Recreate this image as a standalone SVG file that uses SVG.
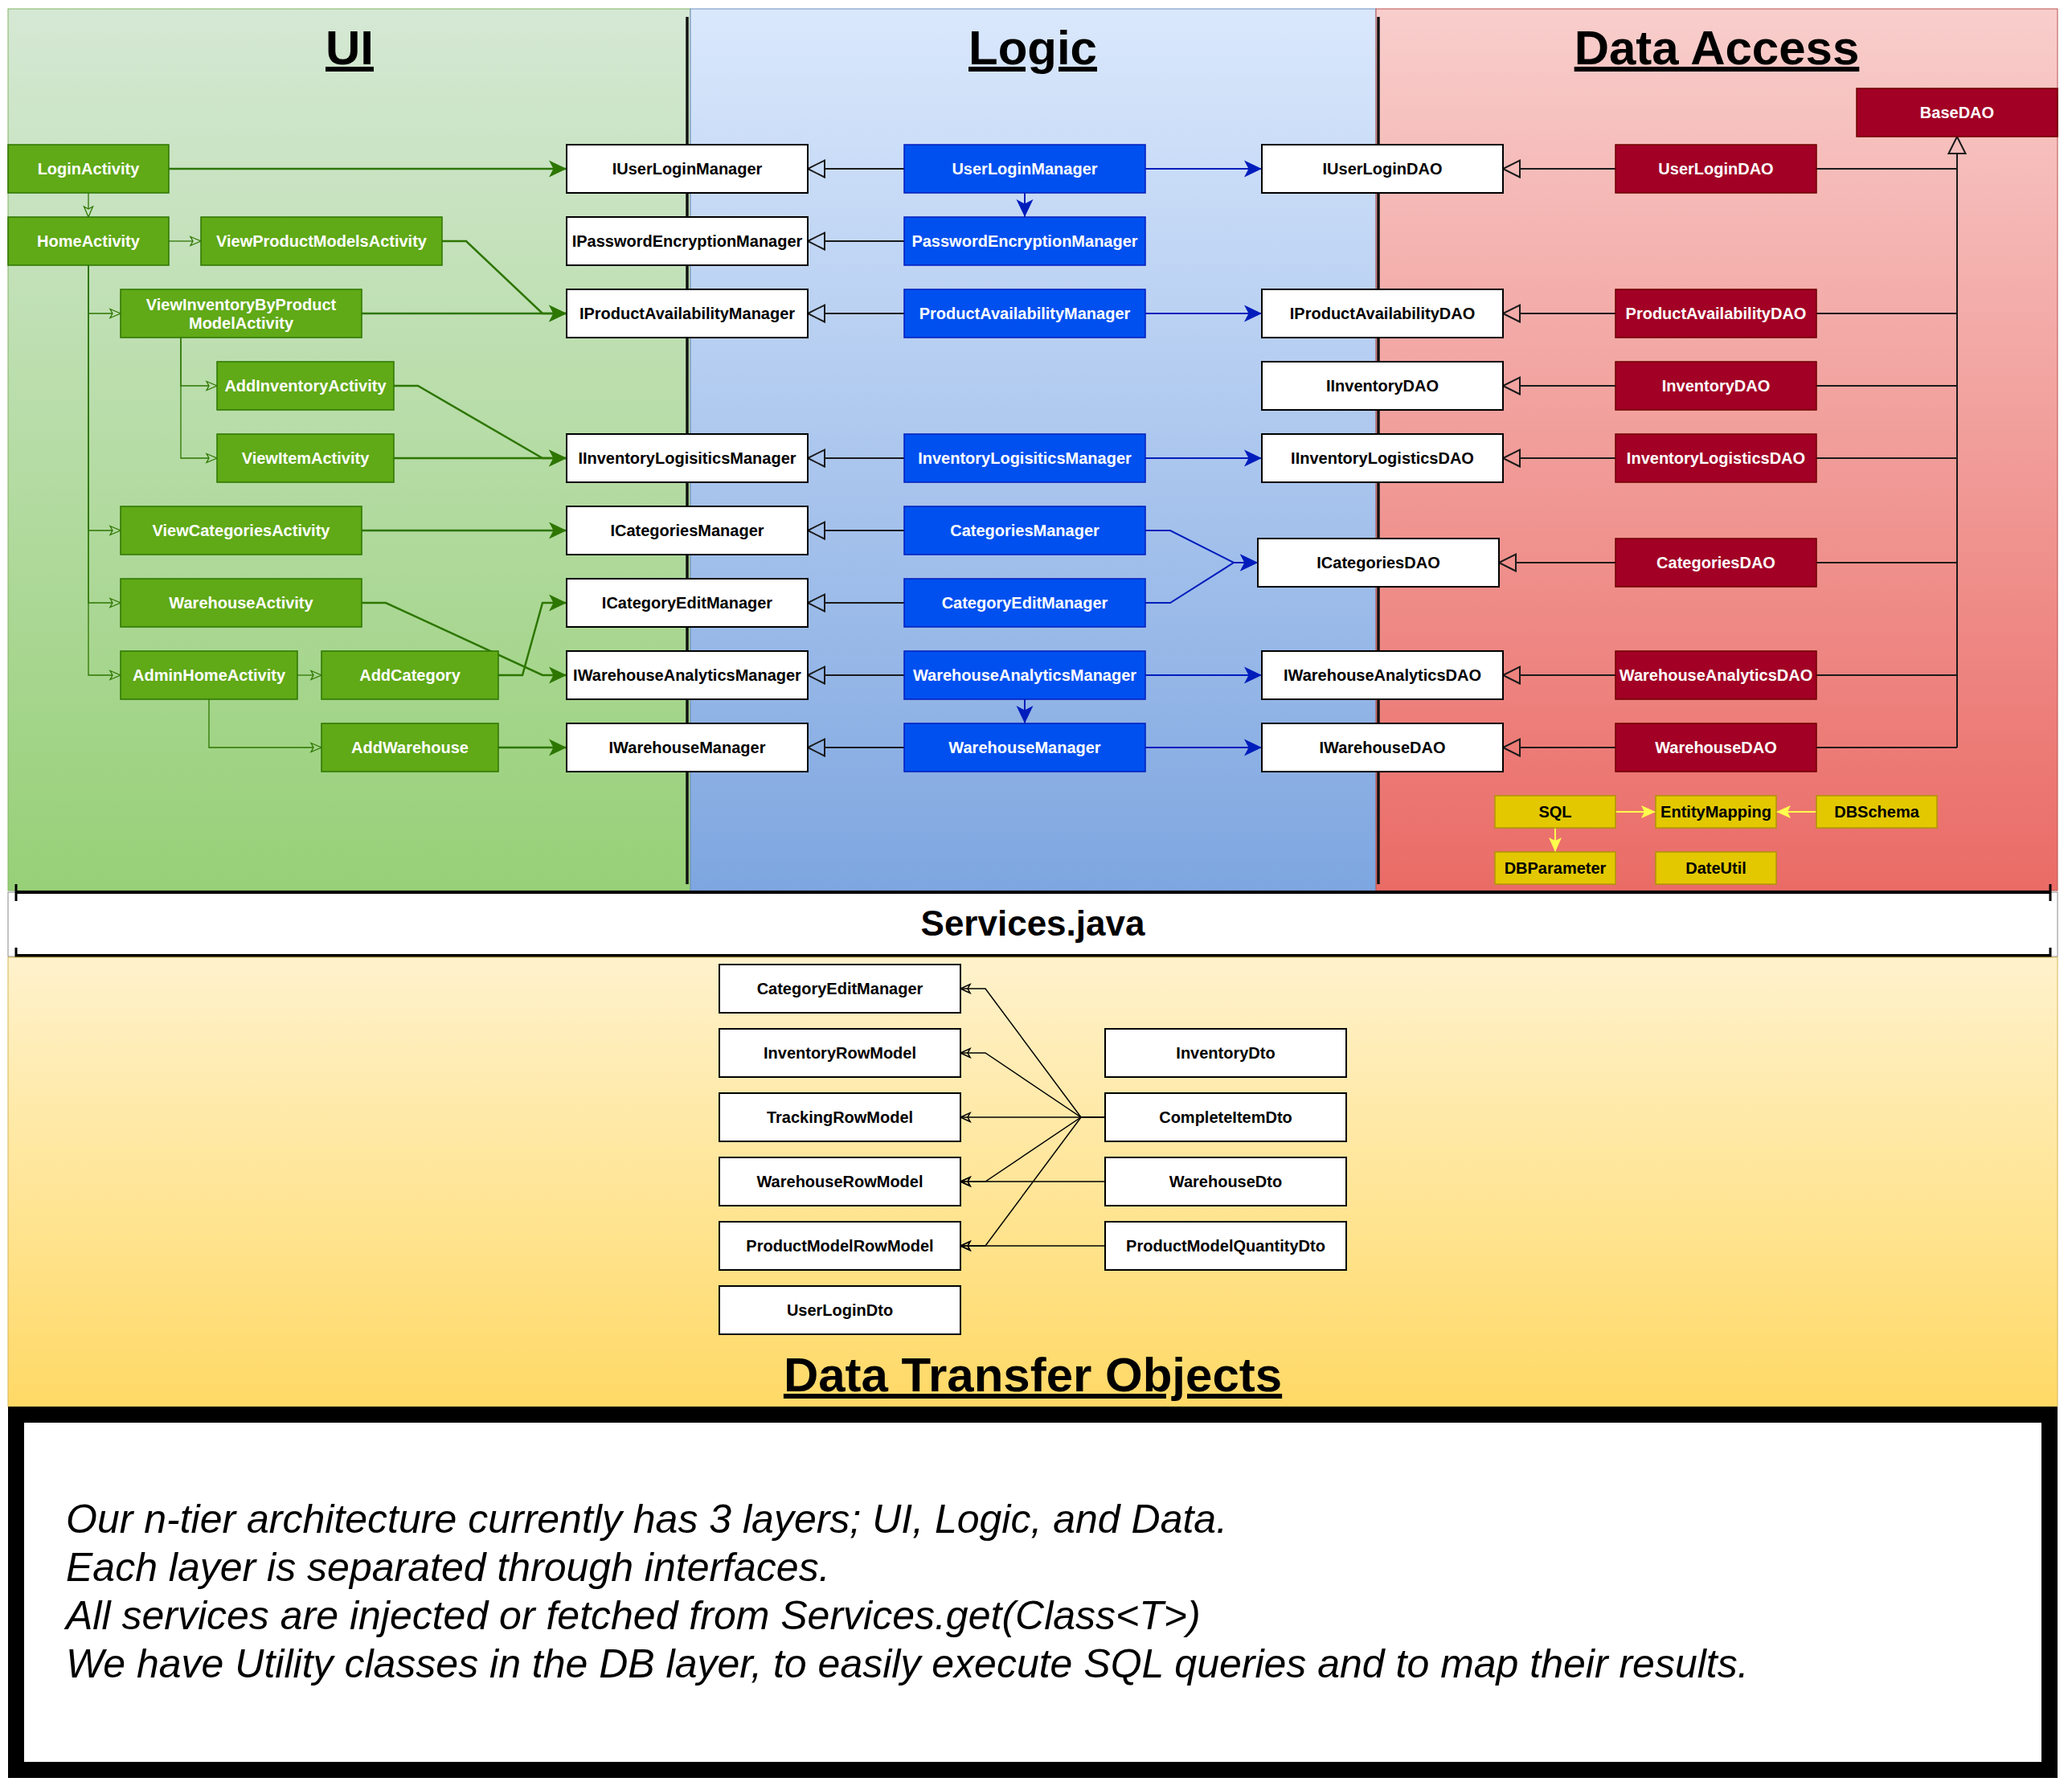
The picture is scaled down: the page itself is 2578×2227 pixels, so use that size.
<svg xmlns="http://www.w3.org/2000/svg" width="2578" height="2227" viewBox="0 0 2578 2227">
<style>
text{font-family:'Liberation Sans',Arial,Helvetica,sans-serif}
.nt{font-size:20px;font-weight:bold;text-anchor:middle}
.tw{fill:#fff}
.tb{fill:#000}
.g{fill:#60a917;stroke:#2D7600;stroke-width:1.5}
.b{fill:#0050ef;stroke:#001DBC;stroke-width:1.5}
.r{fill:#a20025;stroke:#6F0000;stroke-width:1.5}
.y{fill:#e3c800;stroke:#B09500;stroke-width:1.5}
.w{fill:#fff;stroke:#000;stroke-width:2}
.title{font-size:60px;font-weight:bold;text-anchor:middle;text-decoration:underline;fill:#000}
.gt{fill:none;stroke:#2D7600;stroke-width:2.5;marker-end:url(#gA)}
.gn{fill:none;stroke:#2D7600;stroke-width:1.3;marker-end:url(#gO)}
.bl{fill:none;stroke:#001DBC;stroke-width:2;marker-end:url(#bA)}
.bk{fill:none;stroke:#1a1a1a;stroke-width:2;marker-end:url(#hol)}
.bkn{fill:none;stroke:#1a1a1a;stroke-width:2}
.yl{fill:none;stroke:#ffff4d;stroke-width:2;marker-end:url(#yA)}
.dt{fill:none;stroke:#000;stroke-width:1.5;marker-end:url(#dA)}
.note{font-size:50px;font-style:italic;fill:#000}
</style>
<defs>
<linearGradient id="gUI" x1="0" y1="0" x2="0" y2="1"><stop offset="0" stop-color="#d5e8d4"/><stop offset="1" stop-color="#97d077"/></linearGradient>
<linearGradient id="gL" x1="0" y1="0" x2="0" y2="1"><stop offset="0" stop-color="#dae8fc"/><stop offset="1" stop-color="#7ea6e0"/></linearGradient>
<linearGradient id="gD" x1="0" y1="0" x2="0" y2="1"><stop offset="0" stop-color="#f8cecc"/><stop offset="1" stop-color="#ea6b66"/></linearGradient>
<linearGradient id="gT" x1="0" y1="0" x2="0" y2="1"><stop offset="0" stop-color="#fff2cc"/><stop offset="1" stop-color="#ffd966"/></linearGradient>
<marker id="gA" markerUnits="userSpaceOnUse" markerWidth="22" markerHeight="21" refX="22" refY="10.5" orient="auto" overflow="visible"><path d="M0,0 L22,10.5 L0,21 L5.5,10.5 Z" fill="#2D7600"/></marker>
<marker id="bA" markerUnits="userSpaceOnUse" markerWidth="22" markerHeight="21" refX="22" refY="10.5" orient="auto" overflow="visible"><path d="M0,0 L22,10.5 L0,21 L5.5,10.5 Z" fill="#001DBC"/></marker>
<marker id="yA" markerUnits="userSpaceOnUse" markerWidth="18" markerHeight="16" refX="18" refY="8" orient="auto" overflow="visible"><path d="M0,0 L18,8 L0,16 L4,8 Z" fill="#ffff4d"/></marker>
<marker id="gO" markerUnits="userSpaceOnUse" markerWidth="16" markerHeight="14" refX="4" refY="6.5" orient="auto" overflow="visible"><path d="M1,1 L14,6.5 L1,12 L4,6.5 Z" fill="none" stroke="#2D7600" stroke-width="1.3"/></marker>
<marker id="hol" markerUnits="userSpaceOnUse" markerWidth="22" markerHeight="22" refX="0" refY="10.5" orient="auto" overflow="visible"><path d="M0,0 L21,10.5 L0,21 Z" fill="none" stroke="#1a1a1a" stroke-width="2"/></marker>
<marker id="dA" markerUnits="userSpaceOnUse" markerWidth="13" markerHeight="12" refX="12" refY="5.5" orient="auto" overflow="visible"><path d="M0,0 L12,5.5 L0,11 L3,5.5 Z" fill="none" stroke="#000" stroke-width="1.5"/></marker>
</defs>
<rect width="2578" height="2227" fill="#fff"/>
<g id="panels">
<rect x="10" y="11" width="849" height="1097" fill="url(#gUI)" stroke="#82b366"/>
<rect x="859" y="11" width="853" height="1097" fill="url(#gL)" stroke="#6c8ebf"/>
<rect x="1712" y="11" width="848" height="1097" fill="url(#gD)" stroke="#b85450"/>
<line x1="855" y1="21" x2="855" y2="1100" stroke="#111" stroke-width="3.5"/>
<line x1="1715" y1="21" x2="1715" y2="1100" stroke="#111" stroke-width="3.5"/>
<text class="title" x="435" y="80">UI</text>
<text class="title" x="1285" y="80">Logic</text>
<text class="title" x="2136" y="80">Data Access</text>
</g>
<g id="services">
<rect x="10" y="1110" width="2550" height="80" fill="#fff" stroke="#888" stroke-width="1"/>
<path d="M20,1110 H2551 M20,1189 H2551" stroke="#000" stroke-width="4" fill="none"/>
<path d="M20,1100 V1121 M2551,1100 V1121 M20,1179 V1200 M2551,1179 V1200" stroke="#000" stroke-width="3" fill="none"/>
<text x="1285" y="1164" font-size="44" font-weight="bold" text-anchor="middle">Services.java</text>
</g>
<g id="dto-panel">
<rect x="10" y="1191" width="2550" height="559" fill="url(#gT)" stroke="#d6b656"/>
<text class="title" x="1285" y="1731">Data Transfer Objects</text>
</g>
<g id="notes">
<rect x="20" y="1760" width="2530" height="442" fill="#fff" stroke="#000" stroke-width="20"/>
<text class="note" x="82" y="1907">Our n-tier architecture currently has 3 layers; UI, Logic, and Data.</text>
<text class="note" x="82" y="1967">Each layer is separated through interfaces.</text>
<text class="note" x="82" y="2027">All services are injected or fetched from Services.get(Class&lt;T&gt;)</text>
<text class="note" x="82" y="2087">We have Utility classes in the DB layer, to easily execute SQL queries and to map their results.</text>
</g>
<g id="connectors">
<path class="gt" d="M210,210 H705"/>
<path class="gt" d="M550,300 H580 L675,390 H705"/>
<path class="gt" d="M450,390 H705"/>
<path class="gt" d="M490,480 H520 L675,570 H705"/>
<path class="gt" d="M490,570 H705"/>
<path class="gt" d="M450,660 H705"/>
<path class="gt" d="M450,750 H480 L675,840 H705"/>
<path class="gt" d="M620,840 H650 L675,750 H705"/>
<path class="gt" d="M620,930 H705"/>
<path class="gn" d="M110,240 V260"/>
<path class="gn" d="M210,300 H240"/>
<path class="gn" d="M110,330 V390 H140"/>
<path class="gn" d="M110,330 V660 H140"/>
<path class="gn" d="M110,330 V750 H140"/>
<path class="gn" d="M110,330 V840 H140"/>
<path class="gn" d="M225,420 V480 H260"/>
<path class="gn" d="M225,420 V570 H260"/>
<path class="gn" d="M370,840 H390"/>
<path class="gn" d="M260,870 V930 H390"/>
<path class="bk" d="M1125,210 H1026"/>
<path class="bk" d="M1125,300 H1026"/>
<path class="bk" d="M1125,390 H1026"/>
<path class="bk" d="M1125,570 H1026"/>
<path class="bk" d="M1125,660 H1026"/>
<path class="bk" d="M1125,750 H1026"/>
<path class="bk" d="M1125,840 H1026"/>
<path class="bk" d="M1125,930 H1026"/>
<path class="bl" d="M1425,210 H1570"/>
<path class="bl" d="M1275,240 V270"/>
<path class="bl" d="M1425,390 H1570"/>
<path class="bl" d="M1425,570 H1570"/>
<path class="bl" d="M1425,660 H1456 L1535,700 H1565"/>
<path class="bl" d="M1425,750 H1456 L1535,700 H1565"/>
<path class="bl" d="M1425,840 H1570"/>
<path class="bl" d="M1275,870 V900"/>
<path class="bl" d="M1425,930 H1570"/>
<path class="bk" d="M2010,210 H1891"/>
<path class="bk" d="M2010,390 H1891"/>
<path class="bk" d="M2010,480 H1891"/>
<path class="bk" d="M2010,570 H1891"/>
<path class="bk" d="M2010,700 H1886"/>
<path class="bk" d="M2010,840 H1891"/>
<path class="bk" d="M2010,930 H1891"/>
<path class="bkn" d="M2260,210 H2435 M2260,390 H2435 M2260,480 H2435 M2260,570 H2435 M2260,700 H2435 M2260,840 H2435 M2260,930 H2435"/>
<path class="bk" d="M2435,930 V191"/>
<path class="yl" d="M2010,1010 H2060"/>
<path class="yl" d="M2260,1010 H2210"/>
<path class="yl" d="M1935,1030 V1060"/>
<path class="dt" d="M1375,1390 H1345 L1226,1230 H1195"/>
<path class="dt" d="M1375,1390 H1345 L1226,1310 H1195"/>
<path class="dt" d="M1375,1390 H1195"/>
<path class="dt" d="M1375,1390 H1345 L1226,1470 H1195"/>
<path class="dt" d="M1375,1390 H1345 L1226,1550 H1195"/>
<path class="dt" d="M1375,1470 H1195"/>
<path class="dt" d="M1375,1550 H1195"/>
</g>
<g id="LoginActivity"><rect class="g" x="10" y="180" width="200" height="60"/><text class="nt tw" x="110" y="217">LoginActivity</text></g>
<g id="HomeActivity"><rect class="g" x="10" y="270" width="200" height="60"/><text class="nt tw" x="110" y="307">HomeActivity</text></g>
<g id="ViewProductModelsActivity"><rect class="g" x="250" y="270" width="300" height="60"/><text class="nt tw" x="400" y="307">ViewProductModelsActivity</text></g>
<g id="ViewInventoryByProductModelActivity"><rect class="g" x="150" y="360" width="300" height="60"/><text class="nt tw" x="300" y="385.5">ViewInventoryByProduct</text><text class="nt tw" x="300" y="408.5">ModelActivity</text></g>
<g id="AddInventoryActivity"><rect class="g" x="270" y="450" width="220" height="60"/><text class="nt tw" x="380" y="487">AddInventoryActivity</text></g>
<g id="ViewItemActivity"><rect class="g" x="270" y="540" width="220" height="60"/><text class="nt tw" x="380" y="577">ViewItemActivity</text></g>
<g id="ViewCategoriesActivity"><rect class="g" x="150" y="630" width="300" height="60"/><text class="nt tw" x="300" y="667">ViewCategoriesActivity</text></g>
<g id="WarehouseActivity"><rect class="g" x="150" y="720" width="300" height="60"/><text class="nt tw" x="300" y="757">WarehouseActivity</text></g>
<g id="AdminHomeActivity"><rect class="g" x="150" y="810" width="220" height="60"/><text class="nt tw" x="260" y="847">AdminHomeActivity</text></g>
<g id="AddCategory"><rect class="g" x="400" y="810" width="220" height="60"/><text class="nt tw" x="510" y="847">AddCategory</text></g>
<g id="AddWarehouse"><rect class="g" x="400" y="900" width="220" height="60"/><text class="nt tw" x="510" y="937">AddWarehouse</text></g>
<g id="IUserLoginManager"><rect class="w" x="705" y="180" width="300" height="60"/><text class="nt tb" x="855" y="217">IUserLoginManager</text></g>
<g id="IPasswordEncryptionManager"><rect class="w" x="705" y="270" width="300" height="60"/><text class="nt tb" x="855" y="307">IPasswordEncryptionManager</text></g>
<g id="IProductAvailabilityManager"><rect class="w" x="705" y="360" width="300" height="60"/><text class="nt tb" x="855" y="397">IProductAvailabilityManager</text></g>
<g id="IInventoryLogisiticsManager"><rect class="w" x="705" y="540" width="300" height="60"/><text class="nt tb" x="855" y="577">IInventoryLogisiticsManager</text></g>
<g id="ICategoriesManager"><rect class="w" x="705" y="630" width="300" height="60"/><text class="nt tb" x="855" y="667">ICategoriesManager</text></g>
<g id="ICategoryEditManager"><rect class="w" x="705" y="720" width="300" height="60"/><text class="nt tb" x="855" y="757">ICategoryEditManager</text></g>
<g id="IWarehouseAnalyticsManager"><rect class="w" x="705" y="810" width="300" height="60"/><text class="nt tb" x="855" y="847">IWarehouseAnalyticsManager</text></g>
<g id="IWarehouseManager"><rect class="w" x="705" y="900" width="300" height="60"/><text class="nt tb" x="855" y="937">IWarehouseManager</text></g>
<g id="UserLoginManager"><rect class="b" x="1125" y="180" width="300" height="60"/><text class="nt tw" x="1275" y="217">UserLoginManager</text></g>
<g id="PasswordEncryptionManager"><rect class="b" x="1125" y="270" width="300" height="60"/><text class="nt tw" x="1275" y="307">PasswordEncryptionManager</text></g>
<g id="ProductAvailabilityManager"><rect class="b" x="1125" y="360" width="300" height="60"/><text class="nt tw" x="1275" y="397">ProductAvailabilityManager</text></g>
<g id="InventoryLogisiticsManager"><rect class="b" x="1125" y="540" width="300" height="60"/><text class="nt tw" x="1275" y="577">InventoryLogisiticsManager</text></g>
<g id="CategoriesManager"><rect class="b" x="1125" y="630" width="300" height="60"/><text class="nt tw" x="1275" y="667">CategoriesManager</text></g>
<g id="CategoryEditManager"><rect class="b" x="1125" y="720" width="300" height="60"/><text class="nt tw" x="1275" y="757">CategoryEditManager</text></g>
<g id="WarehouseAnalyticsManager"><rect class="b" x="1125" y="810" width="300" height="60"/><text class="nt tw" x="1275" y="847">WarehouseAnalyticsManager</text></g>
<g id="WarehouseManager"><rect class="b" x="1125" y="900" width="300" height="60"/><text class="nt tw" x="1275" y="937">WarehouseManager</text></g>
<g id="IUserLoginDAO"><rect class="w" x="1570" y="180" width="300" height="60"/><text class="nt tb" x="1720" y="217">IUserLoginDAO</text></g>
<g id="IProductAvailabilityDAO"><rect class="w" x="1570" y="360" width="300" height="60"/><text class="nt tb" x="1720" y="397">IProductAvailabilityDAO</text></g>
<g id="IInventoryDAO"><rect class="w" x="1570" y="450" width="300" height="60"/><text class="nt tb" x="1720" y="487">IInventoryDAO</text></g>
<g id="IInventoryLogisticsDAO"><rect class="w" x="1570" y="540" width="300" height="60"/><text class="nt tb" x="1720" y="577">IInventoryLogisticsDAO</text></g>
<g id="ICategoriesDAO"><rect class="w" x="1565" y="670" width="300" height="60"/><text class="nt tb" x="1715" y="707">ICategoriesDAO</text></g>
<g id="IWarehouseAnalyticsDAO"><rect class="w" x="1570" y="810" width="300" height="60"/><text class="nt tb" x="1720" y="847">IWarehouseAnalyticsDAO</text></g>
<g id="IWarehouseDAO"><rect class="w" x="1570" y="900" width="300" height="60"/><text class="nt tb" x="1720" y="937">IWarehouseDAO</text></g>
<g id="BaseDAO"><rect class="r" x="2310" y="110" width="250" height="60"/><text class="nt tw" x="2435" y="147">BaseDAO</text></g>
<g id="UserLoginDAO"><rect class="r" x="2010" y="180" width="250" height="60"/><text class="nt tw" x="2135" y="217">UserLoginDAO</text></g>
<g id="ProductAvailabilityDAO"><rect class="r" x="2010" y="360" width="250" height="60"/><text class="nt tw" x="2135" y="397">ProductAvailabilityDAO</text></g>
<g id="InventoryDAO"><rect class="r" x="2010" y="450" width="250" height="60"/><text class="nt tw" x="2135" y="487">InventoryDAO</text></g>
<g id="InventoryLogisticsDAO"><rect class="r" x="2010" y="540" width="250" height="60"/><text class="nt tw" x="2135" y="577">InventoryLogisticsDAO</text></g>
<g id="CategoriesDAO"><rect class="r" x="2010" y="670" width="250" height="60"/><text class="nt tw" x="2135" y="707">CategoriesDAO</text></g>
<g id="WarehouseAnalyticsDAO"><rect class="r" x="2010" y="810" width="250" height="60"/><text class="nt tw" x="2135" y="847">WarehouseAnalyticsDAO</text></g>
<g id="WarehouseDAO"><rect class="r" x="2010" y="900" width="250" height="60"/><text class="nt tw" x="2135" y="937">WarehouseDAO</text></g>
<g id="SQL"><rect class="y" x="1860" y="990" width="150" height="40"/><text class="nt tb" x="1935" y="1017">SQL</text></g>
<g id="EntityMapping"><rect class="y" x="2060" y="990" width="150" height="40"/><text class="nt tb" x="2135" y="1017">EntityMapping</text></g>
<g id="DBSchema"><rect class="y" x="2260" y="990" width="150" height="40"/><text class="nt tb" x="2335" y="1017">DBSchema</text></g>
<g id="DBParameter"><rect class="y" x="1860" y="1060" width="150" height="40"/><text class="nt tb" x="1935" y="1087">DBParameter</text></g>
<g id="DateUtil"><rect class="y" x="2060" y="1060" width="150" height="40"/><text class="nt tb" x="2135" y="1087">DateUtil</text></g>
<g id="dto-CategoryEditManager"><rect class="w" x="895" y="1200" width="300" height="60" stroke-width="1.5"/><text class="nt tb" x="1045" y="1237">CategoryEditManager</text></g>
<g id="dto-InventoryRowModel"><rect class="w" x="895" y="1280" width="300" height="60" stroke-width="1.5"/><text class="nt tb" x="1045" y="1317">InventoryRowModel</text></g>
<g id="dto-TrackingRowModel"><rect class="w" x="895" y="1360" width="300" height="60" stroke-width="1.5"/><text class="nt tb" x="1045" y="1397">TrackingRowModel</text></g>
<g id="dto-WarehouseRowModel"><rect class="w" x="895" y="1440" width="300" height="60" stroke-width="1.5"/><text class="nt tb" x="1045" y="1477">WarehouseRowModel</text></g>
<g id="dto-ProductModelRowModel"><rect class="w" x="895" y="1520" width="300" height="60" stroke-width="1.5"/><text class="nt tb" x="1045" y="1557">ProductModelRowModel</text></g>
<g id="dto-UserLoginDto"><rect class="w" x="895" y="1600" width="300" height="60" stroke-width="1.5"/><text class="nt tb" x="1045" y="1637">UserLoginDto</text></g>
<g id="dto-InventoryDto"><rect class="w" x="1375" y="1280" width="300" height="60" stroke-width="1.5"/><text class="nt tb" x="1525" y="1317">InventoryDto</text></g>
<g id="dto-CompleteItemDto"><rect class="w" x="1375" y="1360" width="300" height="60" stroke-width="1.5"/><text class="nt tb" x="1525" y="1397">CompleteItemDto</text></g>
<g id="dto-WarehouseDto"><rect class="w" x="1375" y="1440" width="300" height="60" stroke-width="1.5"/><text class="nt tb" x="1525" y="1477">WarehouseDto</text></g>
<g id="dto-ProductModelQuantityDto"><rect class="w" x="1375" y="1520" width="300" height="60" stroke-width="1.5"/><text class="nt tb" x="1525" y="1557">ProductModelQuantityDto</text></g>
</svg>
